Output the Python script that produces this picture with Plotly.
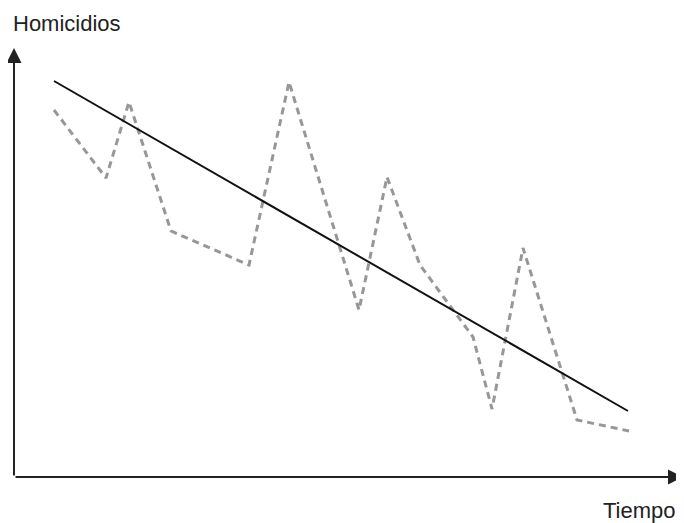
import plotly.graph_objects as go

# Observed series (time units, homicide units)
tiempo = [40, 92, 115, 157, 235, 275, 345, 373, 406, 459, 478, 509, 563, 615]
homicidios = [367, 299, 375, 246, 212, 395, 167, 300, 212, 140, 68, 229, 57, 46]

# Linear trend endpoints
trend_t = [40, 614]
trend_h = [396, 66]

X_MAX = 669
Y_MAX = 429

fig = go.Figure()
fig.add_trace(go.Scatter(x=tiempo, y=homicidios, mode="lines",
                         line=dict(color="#97979b", width=3, dash="7px,5px"),
                         hoverinfo="skip"))
fig.add_trace(go.Scatter(x=trend_t, y=trend_h, mode="lines",
                         line=dict(color="#111111", width=2),
                         hoverinfo="skip"))

font = dict(family="Liberation Sans Narrow, Arial Narrow, Liberation Sans, sans-serif",
            size=22, color="#222222")

annotations = [
    # axes with arrowheads
    dict(x=X_MAX, y=0, ax=0, ay=0, xref="x", yref="y", axref="x", ayref="y",
         text="", showarrow=True, arrowhead=2, arrowsize=1.5, arrowwidth=2,
         arrowcolor="#222222", standoff=0),
    dict(x=0, y=Y_MAX, ax=0, ay=0, xref="x", yref="y", axref="x", ayref="y",
         text="", showarrow=True, arrowhead=2, arrowsize=1.5, arrowwidth=2,
         arrowcolor="#222222", standoff=0),
    dict(x=0, y=1.056, xref="paper", yref="paper", text="Homicidios",
         showarrow=False, xanchor="left", yanchor="middle", xshift=-3, font=font),
    dict(x=0.988, y=-0.077, xref="paper", yref="paper", text="Tiempo",
         showarrow=False, xanchor="right", yanchor="middle", xshift=3, font=font),
]

fig.update_layout(
    width=676, height=515,
    margin=dict(l=6, r=1, t=40, b=46),
    paper_bgcolor="white", plot_bgcolor="white",
    showlegend=False,
    xaxis=dict(range=[0, X_MAX], visible=False),
    yaxis=dict(range=[0, Y_MAX], visible=False),
    annotations=annotations,
)

fig.write_html("out.html")
